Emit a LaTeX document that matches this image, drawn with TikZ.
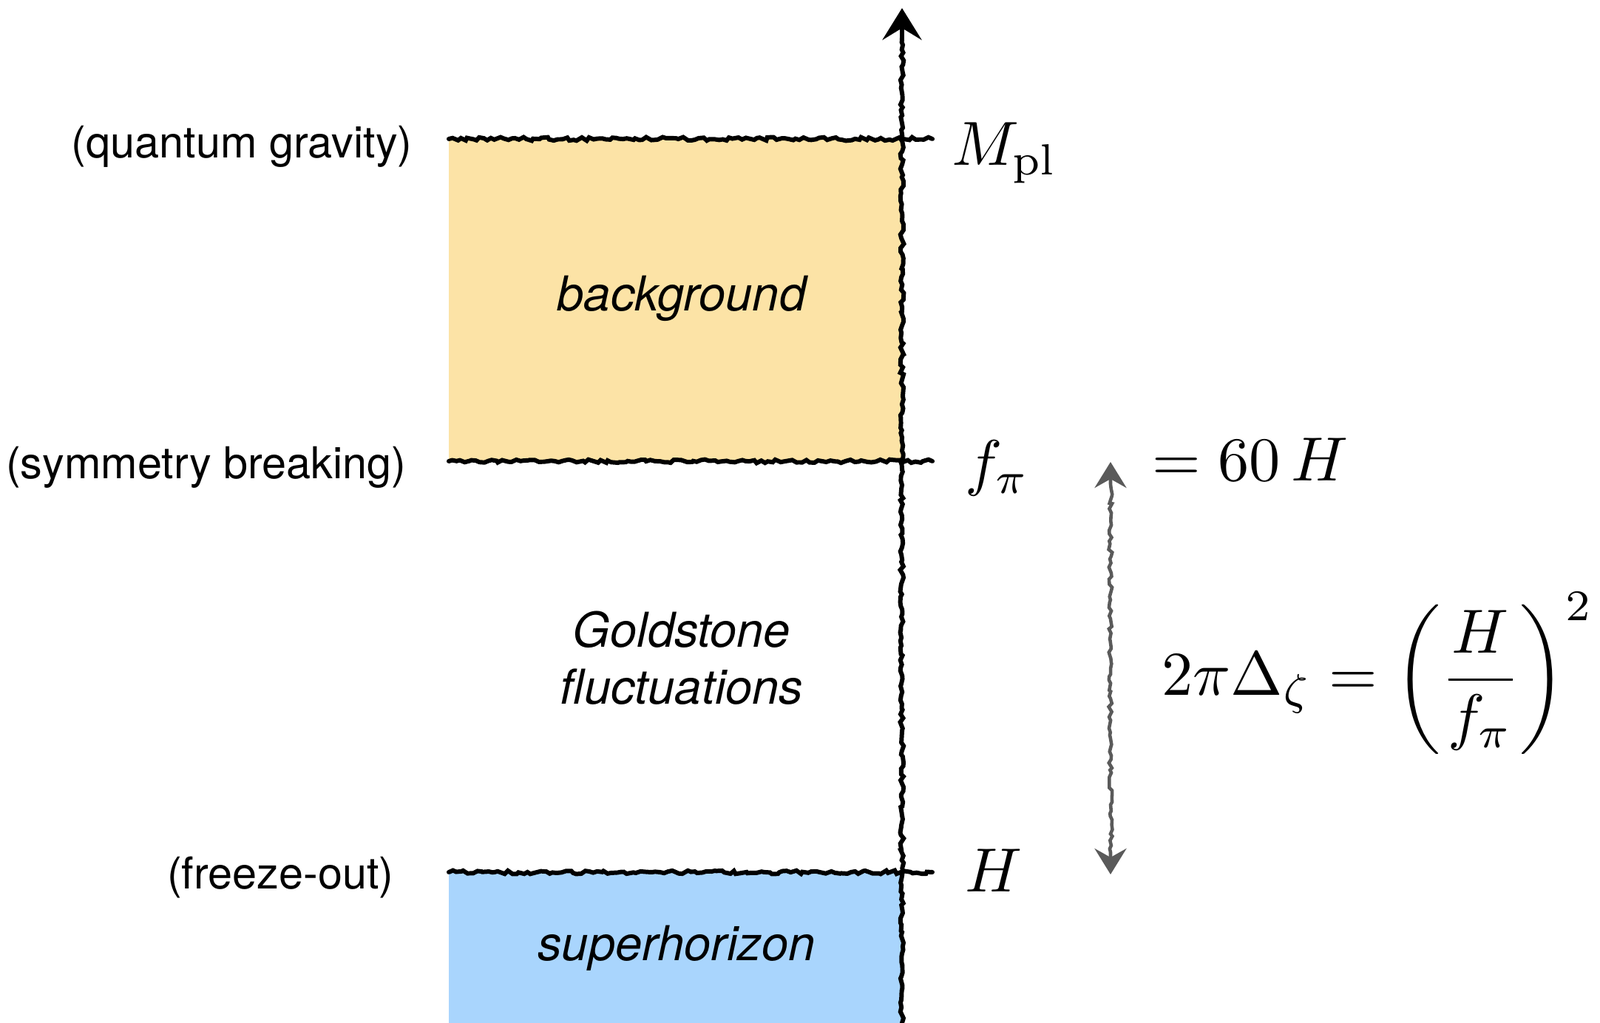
\documentclass[tikz,border=0pt]{standalone}
\usepackage{fontspec}
\setsansfont{TeX Gyre Heros}
\usetikzlibrary{arrows.meta,decorations.pathmorphing}
\definecolor{bgyellow}{HTML}{FCE3A6}
\definecolor{shblue}{HTML}{A9D5FD}
\definecolor{arrgray}{HTML}{5A5A5A}
\tikzset{
  sketch/.style={decorate,decoration={random steps,segment length=1.5pt,amplitude=0.7pt},line width=1.7pt,line cap=round},
  lbl/.style={font=\sffamily\fontsize{16.9}{20}\selectfont,anchor=east},
  region/.style={font=\sffamily\itshape\fontsize{18.5}{22}\selectfont,align=center},
  mth/.style={scale=2.4,transform shape,anchor=base west,inner sep=0pt}
}
\begin{document}
\begin{tikzpicture}[>={Stealth[length=4.3mm,width=5.3mm,inset=1.6mm]}]
\useasboundingbox (0,0) rectangle (21.64,13.84);
\fill[bgyellow] (6.07,7.60) rectangle (12.20,11.96);
\fill[shblue] (6.07,0) rectangle (12.20,2.04);

% scale lines
\foreach \y/\n in {11.96/pl,7.60/fpi,2.04/H}
{
    \coordinate (l\n) at (6.07,\y);
    \coordinate (r\n) at (12.61,\y);
    \draw[sketch] (l\n)--(r\n);
}
\coordinate (bot) at (12.20,0);
\coordinate (top) at (12.20,13.73);
\draw[sketch,->,decoration={post length=4mm}] (bot)--(top);

\coordinate (up) at (15.02,7.59);
\coordinate (dn) at (15.02,2.01);
\draw[sketch,arrgray,<->,line width=1.3pt,decoration={pre length=3mm,post length=3mm},
    >={Stealth[length=3.5mm,width=4.3mm,inset=1.2mm]}] (dn)--(up);

\node[lbl] (qg) at (5.70,11.86) {(quantum gravity)};
\node[lbl] (sb) at (5.62,7.52) {(symmetry breaking)};
\node[lbl] (fo) at (5.45,1.97) {(freeze-out)};

\node[region] (bg) at (9.22,9.80) {background};
\node[region] (gf) at (9.22,4.94) {Goldstone\\fluctuations};
\node[region] (sh) at (9.15,1.01) {superhorizon};

\node[mth] (Mpl) at (12.86,11.60) {$M_{\mathrm{pl}}$};
\node[mth] (fpi) at (13.04,7.29) {$f_\pi$};
\node[mth] (Hs) at (13.04,1.77) {$H$};
\node[mth] (sixty) at (15.57,7.33) {$=60\,H$};
\node[mth,anchor=west] (eq) at (15.70,4.73)
    {$\displaystyle 2\pi\Delta_\zeta=\left(\frac{H}{f_\pi}\right)^{2}$};
\end{tikzpicture}
\end{document}
